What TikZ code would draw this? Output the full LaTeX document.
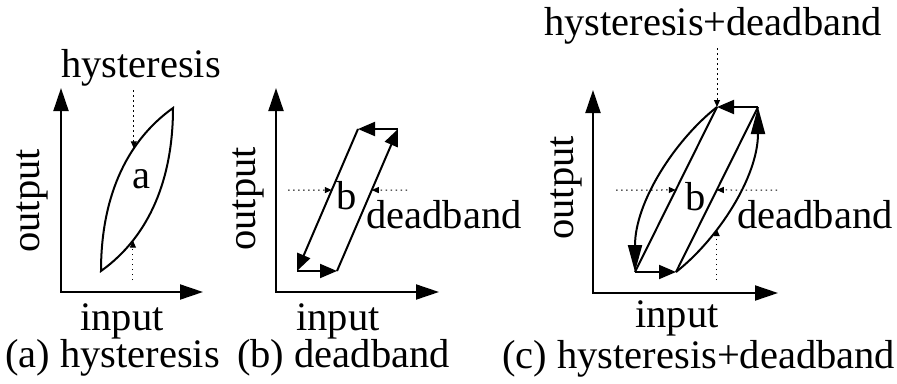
\documentclass[tikz,border=0pt]{standalone}
\usepackage{fontspec}
\setmainfont{Liberation Serif}
\usetikzlibrary{arrows.meta}
\begin{document}
\begin{tikzpicture}[x=1pt,y=-1pt,
  axes/.style={line width=2pt,line join=miter,{Triangle[length=23pt,width=15pt]}-{Triangle[length=23pt,width=15pt]}},
  edge/.style={line width=2pt},
  earr/.style={edge,-{Triangle[length=17pt,width=14pt]}},
  carr/.style={edge,-{Triangle[length=27pt,width=14pt]}},
  dots/.style={line width=1pt,dash pattern=on 1.5pt off 3.5pt,-{Triangle[length=7pt,width=6pt]}},
  lbl/.style={font=\fontsize{40.5}{48}\selectfont,inner sep=0pt,anchor=base},
  vlbl/.style={lbl,rotate=90}]
\useasboundingbox (0,0) rectangle (897,383);

% ---------- (a) hysteresis ----------
\coordinate (aO) at (61,292);
\coordinate (aY) at (61,88);
\coordinate (aX) at (203,292);
\draw[axes] (aY) -- (aO) -- (aX);
\coordinate (aP) at (101,271);
\coordinate (aQ) at (173,108);
\draw[edge] (aP) .. controls (101,201) and (124,143) .. (aQ) coordinate[pos=0.68] (aT)
            .. controls (173,178) and (150,236) .. (aP) coordinate[pos=0.75] (aB) -- cycle;
\coordinate (aTs) at (133,90);
\coordinate (aBs) at (133,280);
\draw[dots] (aT |- aTs) -- (aT);
\draw[dots] (aB |- aBs) -- (aB);
\node[lbl] (aH) at (141,77) {hysteresis};
\node[lbl] (aL) at (141,188) {a};
\node[vlbl] (aOut) at (39,201) {output};
\node[lbl] (aIn) at (122,330) {input};
\node[lbl,anchor=base west] (aCap) at (5,367) {(a) hysteresis};

% ---------- (b) deadband ----------
\coordinate (bO) at (276,292);
\coordinate (bY) at (276,88);
\coordinate (bX) at (439,292);
\draw[axes] (bY) -- (bO) -- (bX);
\coordinate (b1) at (297,271);
\coordinate (b2) at (337,271);
\coordinate (b3) at (398,129);
\coordinate (b4) at (358,129);
\draw[earr] (b1) -- (b2);
\draw[earr] (b2) -- (b3) coordinate[pos=0.57] (bR);
\draw[earr] (b3) -- (b4);
\draw[earr] (b4) -- (b1) coordinate[pos=0.43] (bL);
\coordinate (bLs) at (288,190);
\coordinate (bRs) at (407,190);
\draw[dots] (bLs) -- (bL);
\draw[dots] (bRs) -- (bR);
\node[lbl] (bLab) at (347,209) {b};
\node[lbl] (bDb) at (444,228) {deadband};
\node[vlbl] (bOut) at (255,199) {output};
\node[lbl] (bIn) at (338,330) {input};
\node[lbl,anchor=base west] (bCap) at (237,367) {(b) deadband};

% ---------- (c) hysteresis+deadband ----------
\coordinate (cO) at (593,293);
\coordinate (cY) at (593,90);
\coordinate (cX) at (778,293);
\draw[axes] (cY) -- (cO) -- (cX);
\coordinate (c1) at (635,272);
\coordinate (c2) at (676,272);
\coordinate (c3) at (758,107);
\coordinate (c4) at (717,107);
\draw[earr] (c1) -- (c2);
\draw[edge] (c2) -- (c3) coordinate[pos=0.497] (cR);
\draw[earr] (c3) -- (c4);
\draw[edge] (c4) -- (c1) coordinate[pos=0.503] (cL);
\draw[carr] (c4) .. controls (675,140) and (635,202) .. (c1);
\draw[carr] (c2) .. controls (718,239) and (758,177) .. (c3) coordinate[pos=0.34] (cB);
\coordinate (cTs) at (717,48);
\coordinate (cBs) at (717,280);
\coordinate (cLs) at (616,190);
\coordinate (cRs) at (777,190);
\draw[dots] (cTs) -- (c4);
\draw[dots] (cB |- cBs) -- (cB);
\draw[dots] (cLs) -- (cL);
\draw[dots] (cRs) -- (cR);
\node[lbl] (cH) at (713,35) {hysteresis+deadband};
\node[lbl] (cLab) at (696,210) {b};
\node[lbl] (cDb) at (815,228) {deadband};
\node[vlbl] (cOut) at (573,188) {output};
\node[lbl] (cIn) at (677,327) {input};
\node[lbl,anchor=base west] (cCap) at (502,368) {(c) hysteresis+deadband};
\end{tikzpicture}
\end{document}
